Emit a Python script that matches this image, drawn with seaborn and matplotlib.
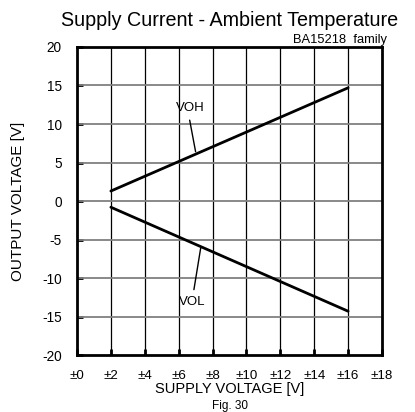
import matplotlib
matplotlib.use("Agg")
import matplotlib.pyplot as plt
import seaborn as sns
import pandas as pd

# Output voltage swing vs. supply voltage (±V)
supply_v = [2, 16]
voh = [1.3, 14.7]
vol = [-0.8, -14.3]

x_ticks = [0, 2, 4, 6, 8, 10, 12, 14, 16, 18]
x_tick_labels = ["±0", "±2", "±4", "±6", "±8", "±10", "±12", "±14", "±16", "±18"]
y_ticks = [-20, -15, -10, -5, 0, 5, 10, 15, 20]

sns.set_theme(style="white")
plt.rcParams["font.family"] = ["Liberation Sans", "DejaVu Sans"]
plt.rcParams["axes.unicode_minus"] = False

df = pd.DataFrame({
    "supply": supply_v * 2,
    "out": voh + vol,
    "series": ["VOH"] * len(supply_v) + ["VOL"] * len(supply_v),
})

fig = plt.figure(figsize=(4.15, 4.12), dpi=100)
ax = fig.add_axes([0.1855, 0.138, 0.735, 0.748])

# grid: black verticals, gray horizontals
for x in x_ticks[1:-1]:
    ax.axvline(x, color="black", lw=0.9, zorder=1)
for y in y_ticks[1:-1]:
    ax.axhline(y, color="#808080", lw=1.3, zorder=1)

sns.lineplot(data=df, x="supply", y="out", units="series", estimator=None,
             color="black", lw=2.0, ax=ax, zorder=3)

# curve labels with leader lines
ax.text(6.7, 12.1, "VOH", ha="center", va="center", fontsize=9.5, color="black")
ax.plot([6.65, 7.0], [10.5, 6.4], color="black", lw=1.0, zorder=3)
ax.text(6.8, -13.1, "VOL", ha="center", va="center", fontsize=9.5, color="black")
ax.plot([6.9, 7.3], [-11.5, -6.1], color="black", lw=1.0, zorder=3)

ax.set_xlim(0, 18)
ax.set_ylim(-20, 20)
ax.set_xticks(x_ticks)
ax.set_xticklabels(x_tick_labels)
ax.set_yticks(y_ticks)
ax.tick_params(axis="x", direction="in", length=4, width=2, pad=11,
               labelsize=9.6, colors="black", bottom=True)
ax.tick_params(axis="y", direction="in", length=4, width=2, pad=11,
               labelsize=9.8, colors="black", left=True)
for sp in ax.spines.values():
    sp.set_visible(True)
    sp.set_color("black")
    sp.set_linewidth(2.0)

ax.set_xlabel("SUPPLY VOLTAGE [V]", fontsize=10.5, labelpad=0, color="black")
ax.set_ylabel("OUTPUT VOLTAGE [V]", fontsize=11, labelpad=12, color="black")

ax.set_title("Supply Current - Ambient Temperature", fontsize=14.2,
             color="black", pad=15)
ax.text(1.015, 1.004, "BA15218  family", transform=ax.transAxes,
        ha="right", va="bottom", fontsize=9.3, color="black")

fig.text(0.555, 0.0, "Fig. 30", ha="center", va="bottom", fontsize=8.5,
         color="black")

fig.savefig("out.png", dpi=100, facecolor="white")
